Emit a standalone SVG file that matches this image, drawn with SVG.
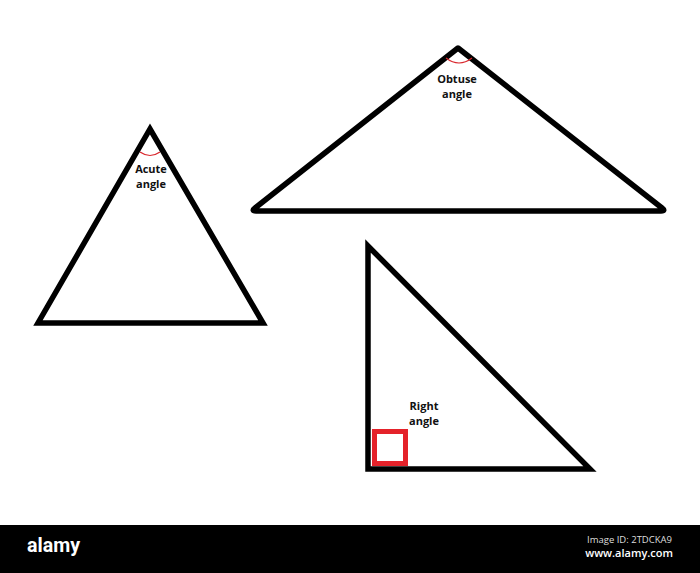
<svg xmlns="http://www.w3.org/2000/svg" width="700" height="573" viewBox="0 0 700 573">
<style>
.tri{fill:none;stroke:#000;stroke-width:5.5}
.arc{fill:none;stroke:#d9262c;stroke-width:1.2}
.lbl{font-family:"Open Sans","Liberation Sans",sans-serif;font-weight:bold;font-size:11px;fill:#111;text-anchor:middle}
</style>
<rect width="700" height="573" fill="#fff"/>
<g id="acute">
<path class="tri" d="M150,129 L263,323 L38,323 Z" stroke-linejoin="miter"/>
<path class="arc" d="M140,152 Q150,159 160,152"/>
<text class="lbl" x="151" y="173">Acute</text>
<text class="lbl" x="151" y="188">angle</text>
</g>
<g id="obtuse">
<path class="tri" d="M458,48 L662,208 Q666,211 661,211 L256,211 Q251,211 255,208 Z" stroke-linejoin="round" stroke-width="6"/>
<path class="arc" d="M446,58 Q459,68 472,58"/>
<text class="lbl" x="457" y="83">Obtuse</text>
<text class="lbl" x="457" y="98">angle</text>
</g>
<g id="right">
<path class="tri" d="M368,246 L590,469 L368,469 Z" stroke-linejoin="miter"/>
<rect x="374.5" y="431.5" width="31" height="32" fill="none" stroke="#e4222a" stroke-width="5"/>
<text class="lbl" x="424" y="410">Right</text>
<text class="lbl" x="424" y="425">angle</text>
</g>
<g id="connectors"></g>
<g id="footer">
<rect x="0" y="525" width="700" height="48" fill="#000"/>
<text x="27" y="552" font-family="Roboto,'Liberation Sans',sans-serif" font-weight="bold" font-size="21" fill="#fff" textLength="53" lengthAdjust="spacingAndGlyphs">alamy</text>
<text x="672" y="543" font-family="'Open Sans','Liberation Sans',sans-serif" font-size="9.5" fill="#ddd" text-anchor="end">Image ID: 2TDCKA9</text>
<text x="673" y="557" font-family="'Open Sans','Liberation Sans',sans-serif" font-weight="600" font-size="11" fill="#fff" text-anchor="end">www.alamy.com</text>
</g>
</svg>
